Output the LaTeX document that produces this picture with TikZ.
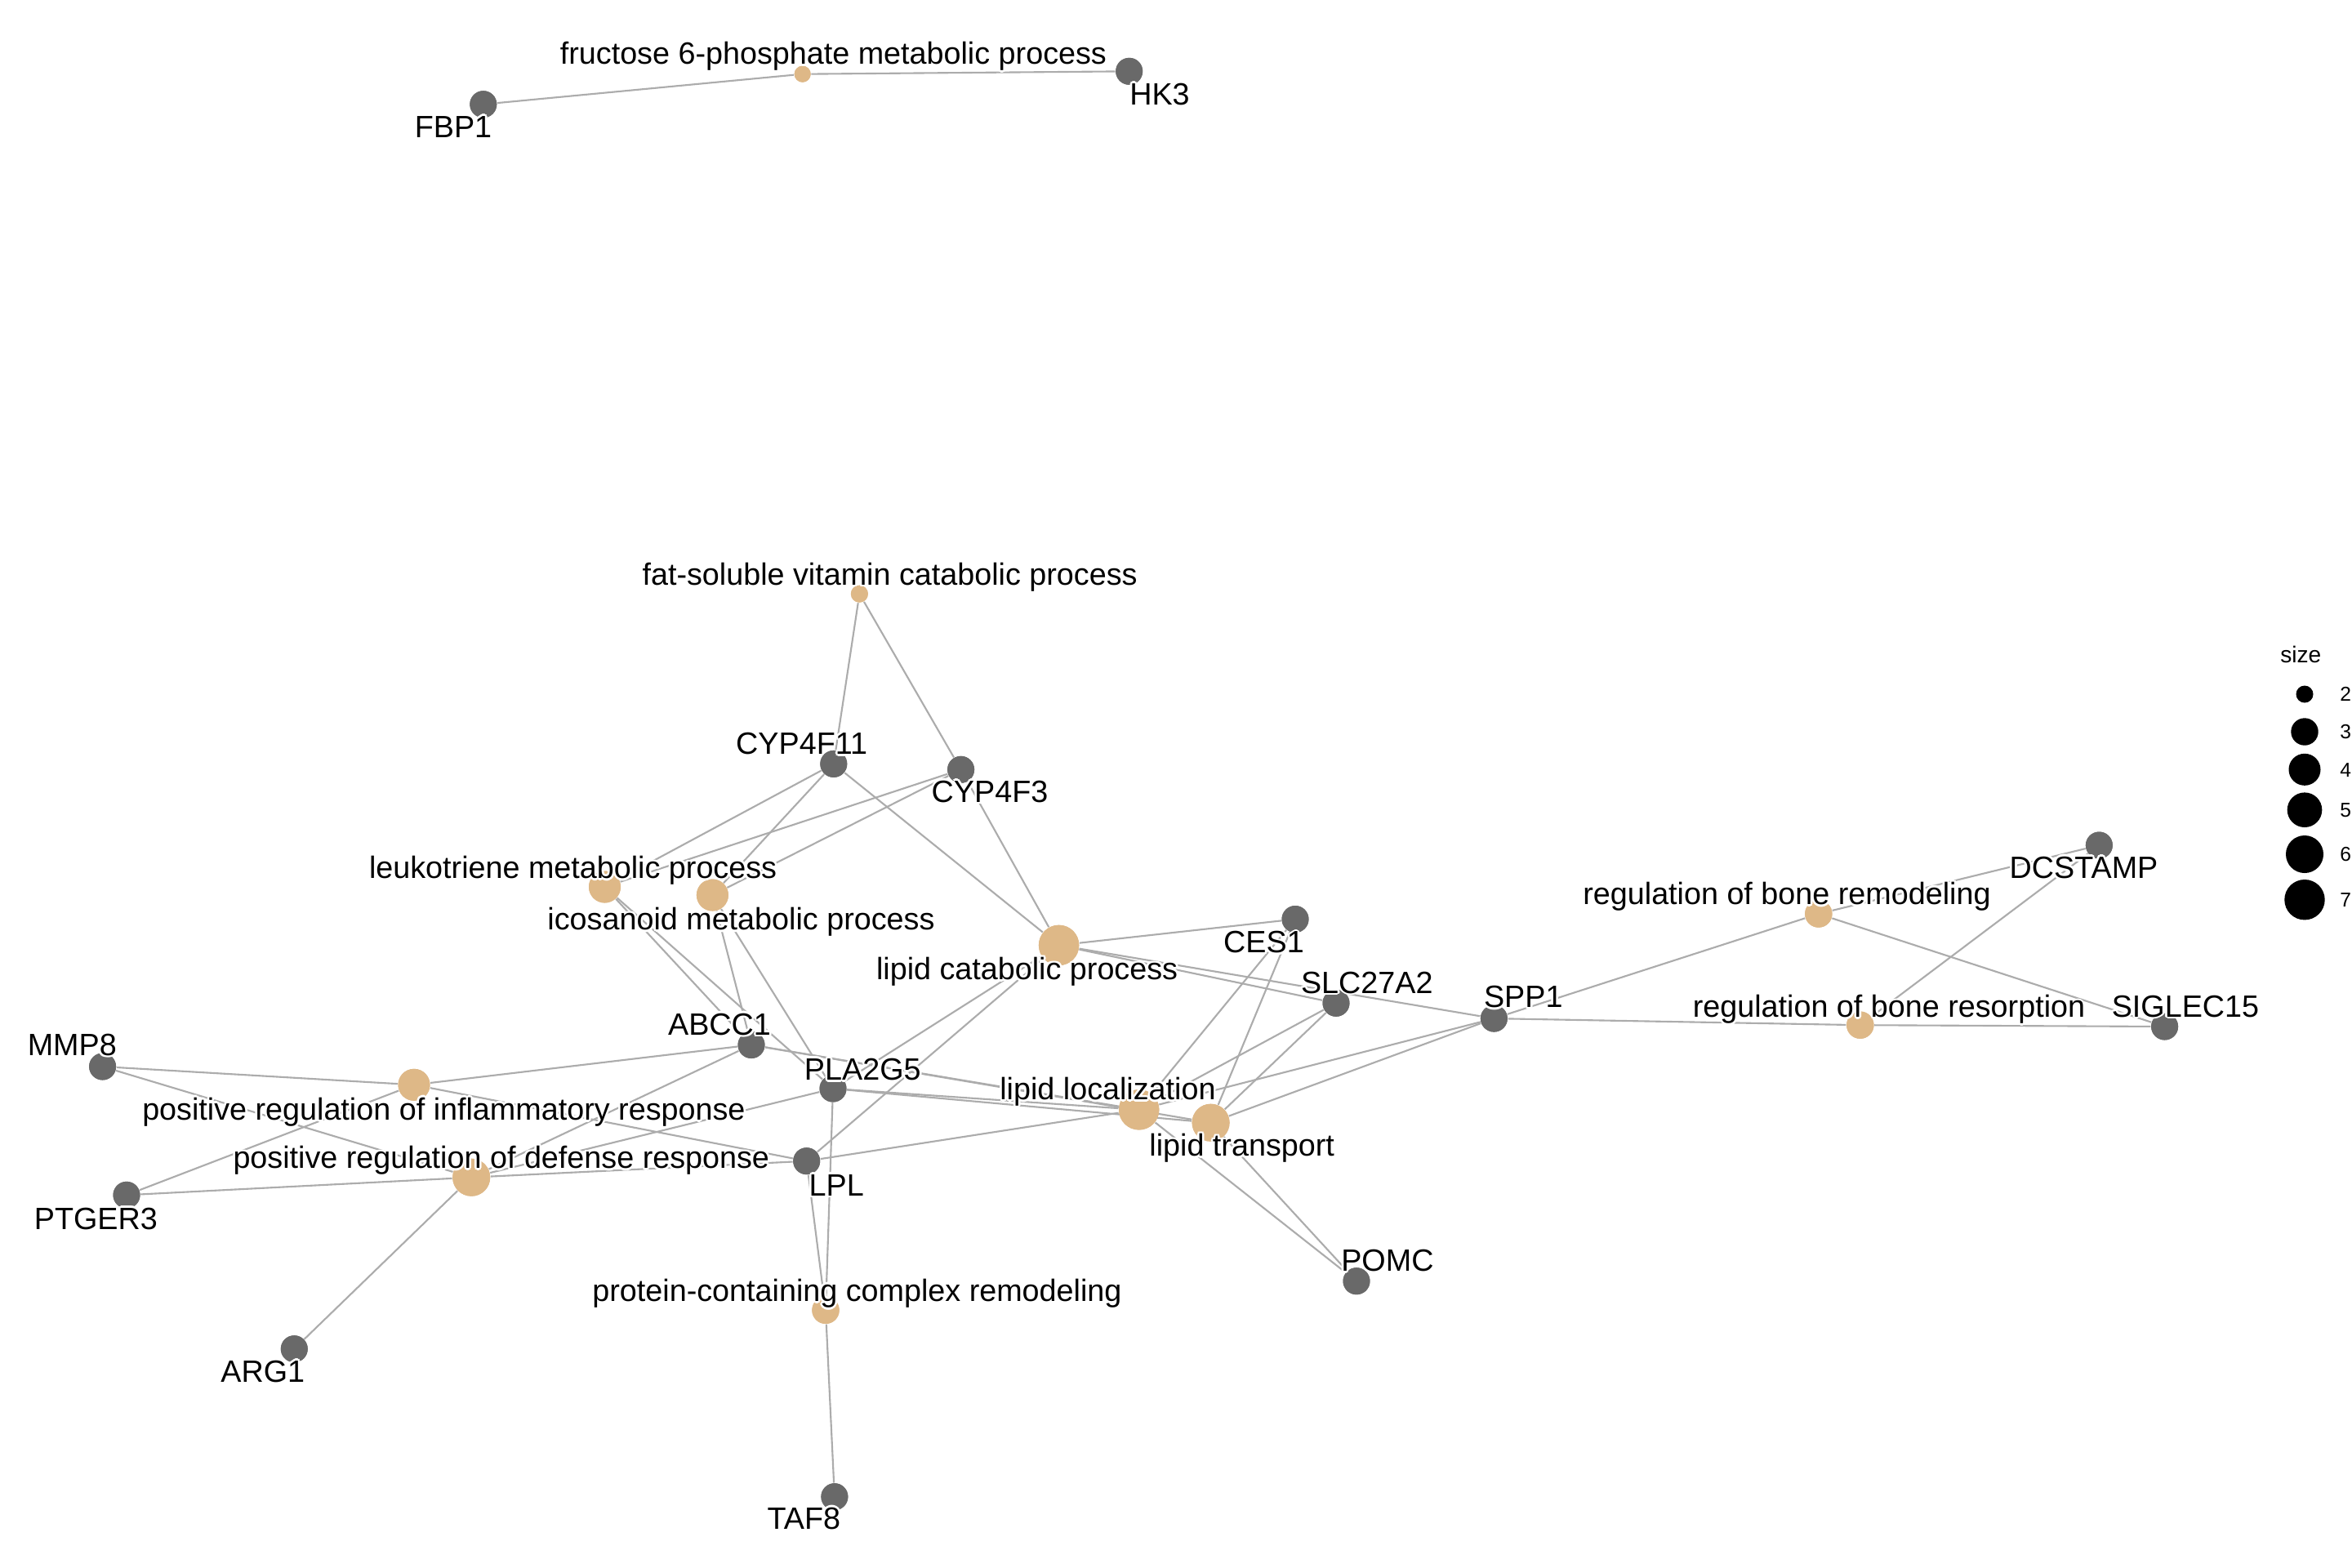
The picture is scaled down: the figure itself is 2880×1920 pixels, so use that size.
\documentclass[tikz,border=0pt]{standalone}
\usepackage{fontspec}
\setmainfont{Liberation Sans}
\definecolor{genecol}{RGB}{105,105,105}
\definecolor{catcol}{RGB}{222,184,135}
\definecolor{edgecol}{RGB}{172,172,172}
\newcommand{\labfont}{\fontsize{10.73pt}{12pt}\selectfont}
\newcommand{\hcopy}[3]{\rlap{\kern#1\raisebox{#2}{#3}}}
\newcommand{\halo}[1]{{\color{white}\hcopy{0.75pt}{0pt}{#1}\hcopy{-0.75pt}{0pt}{#1}\hcopy{0pt}{0.75pt}{#1}\hcopy{0pt}{-0.75pt}{#1}\hcopy{0.53pt}{0.53pt}{#1}\hcopy{-0.53pt}{0.53pt}{#1}\hcopy{0.53pt}{-0.53pt}{#1}\hcopy{-0.53pt}{-0.53pt}{#1}}#1}
\begin{document}
\begin{tikzpicture}[x=0.01cm,y=-0.01cm,
  edge/.style={draw=edgecol, line width=0.6pt},
  gene/.style={circle, fill=genecol, inner sep=0pt, minimum size=0.33cm},
  catnode/.style={circle, fill=catcol, inner sep=0pt, minimum size=#1},
  lab/.style={font=\labfont, inner sep=0pt, text height=7.7pt, text depth=0pt},
  legdot/.style={circle, fill=black, inner sep=0pt, minimum size=#1},
  legtxt/.style={inner sep=0pt, font=\fontsize{7pt}{8pt}\selectfont, text height=5pt, text depth=0pt}]
\fill[white] (0,0) rectangle (2880,1920);
\useasboundingbox (0,0) rectangle (2880,1920);

% gene nodes
\node[gene] (FBP1) at (591.8,127.7) {};
\node[gene] (HK3) at (1382.7,87.3) {};
\node[gene] (CYP4F11) at (1020.8,935.4) {};
\node[gene] (CYP4F3) at (1176.6,942.3) {};
\node[gene] (CES1) at (1586,1125.5) {};
\node[gene] (SLC27A2) at (1636,1228.3) {};
\node[gene] (SPP1) at (1829.4,1247.1) {};
\node[gene] (DCSTAMP) at (2570.4,1035) {};
\node[gene] (SIGLEC15) at (2650.6,1257) {};
\node[gene] (ABCC1) at (920,1279.5) {};
\node[gene] (MMP8) at (125.6,1306) {};
\node[gene] (PLA2G5) at (1020,1333) {};
\node[gene] (LPL) at (987.7,1421.7) {};
\node[gene] (PTGER3) at (155,1463.3) {};
\node[gene] (POMC) at (1661,1568.7) {};
\node[gene] (ARG1) at (360.3,1651.7) {};
\node[gene] (TAF8) at (1021.9,1832.7) {};

% category nodes
\node[catnode=0.2cm] (fru) at (982.7,90.7) {};
\node[catnode=0.21cm] (fat) at (1052.4,727.2) {};
\node[catnode=0.39cm] (leuko) at (740.5,1086) {};
\node[catnode=0.39cm] (icos) at (872.4,1096) {};
\node[catnode=0.494cm] (lipcat) at (1296.6,1157.4) {};
\node[catnode=0.334cm] (bonerem) at (2226.8,1119) {};
\node[catnode=0.334cm] (boneres) at (2277.8,1255.2) {};
\node[catnode=0.39cm] (inflam) at (507,1328.3) {};
\node[catnode=0.494cm] (liploc) at (1394.7,1358.8) {};
\node[catnode=0.46cm] (liptrans) at (1482.6,1374.7) {};
\node[catnode=0.46cm] (defense) at (577.2,1441.7) {};
\node[catnode=0.334cm] (protein) at (1011,1604.3) {};

% edges
\draw[edge] (fru) -- (FBP1);
\draw[edge] (fru) -- (HK3);
\draw[edge] (fat) -- (CYP4F11);
\draw[edge] (fat) -- (CYP4F3);
\foreach \g in {CYP4F11,CYP4F3,ABCC1,PLA2G5} {
  \draw[edge] (leuko) -- (\g);
  \draw[edge] (icos) -- (\g);
}
\foreach \g in {CYP4F11,CYP4F3,CES1,SLC27A2,SPP1,PLA2G5,LPL}
  \draw[edge] (lipcat) -- (\g);
\foreach \g in {ABCC1,PLA2G5,LPL,CES1,SLC27A2,SPP1,POMC}
  \draw[edge] (liploc) -- (\g);
\foreach \g in {ABCC1,PLA2G5,CES1,SLC27A2,SPP1,POMC}
  \draw[edge] (liptrans) -- (\g);
\foreach \g in {MMP8,PTGER3,ABCC1,LPL}
  \draw[edge] (inflam) -- (\g);
\foreach \g in {MMP8,PTGER3,ABCC1,PLA2G5,LPL,ARG1}
  \draw[edge] (defense) -- (\g);
\foreach \g in {LPL,PLA2G5,TAF8}
  \draw[edge] (protein) -- (\g);
\foreach \g in {SPP1,DCSTAMP,SIGLEC15} {
  \draw[edge] (bonerem) -- (\g);
  \draw[edge] (boneres) -- (\g);
}

% redraw node discs above the edges
\foreach \n in {FBP1,HK3,CYP4F11,CYP4F3,CES1,SLC27A2,SPP1,DCSTAMP,SIGLEC15,ABCC1,MMP8,PLA2G5,LPL,PTGER3,POMC,ARG1,TAF8}
  \fill[genecol] (\n.center) circle (16.5);
\foreach \n/\r in {fru/10,fat/10.5,leuko/19.5,icos/19.5,lipcat/24.7,bonerem/16.7,boneres/16.7,inflam/19.5,liploc/24.7,liptrans/23,defense/23,protein/16.7}
  \fill[catcol] (\n.center) circle (\r);

% labels
\node[lab] (lFBP1) at (555,154.7) {\halo{FBP1}};
\node[lab] (lHK3) at (1420,115) {\halo{HK3}};
\node[lab] (lCYP4F11) at (981.6,910.2) {\halo{CYP4F11}};
\node[lab] (lCYP4F3) at (1212,968.7) {\halo{CYP4F3}};
\node[lab] (lCES1) at (1547.5,1153.4) {\halo{CES1}};
\node[lab] (lSLC27A2) at (1673.8,1202.5) {\halo{SLC27A2}};
\node[lab] (lSPP1) at (1865.3,1220.4) {\halo{SPP1}};
\node[lab] (lDCSTAMP) at (2551.5,1061.9) {\halo{DCSTAMP}};
\node[lab] (lSIGLEC15) at (2676,1231.5) {\halo{SIGLEC15}};
\node[lab] (lABCC1) at (881,1253.7) {\halo{ABCC1}};
\node[lab] (lMMP8) at (88.3,1278.7) {\halo{MMP8}};
\node[lab] (lPLA2G5) at (1056.3,1309) {\halo{PLA2G5}};
\node[lab] (lLPL) at (1024.2,1450.7) {\halo{LPL}};
\node[lab] (lPTGER3) at (117.4,1492) {\halo{PTGER3}};
\node[lab] (lPOMC) at (1698.9,1543.4) {\halo{POMC}};
\node[lab] (lARG1) at (321.8,1679) {\halo{ARG1}};
\node[lab] (lTAF8) at (984.3,1858.9) {\halo{TAF8}};

\node[lab] (lfru) at (1020.4,65.3) {\halo{fructose 6-phosphate metabolic process}};
\node[lab] (lfat) at (1089.6,702.8) {\halo{fat-soluble vitamin catabolic process}};
\node[lab] (lleuko) at (701.6,1062.3) {\halo{leukotriene metabolic process}};
\node[lab] (licos) at (907.5,1125.2) {\halo{icosanoid metabolic process}};
\node[lab] (llipcat) at (1257.6,1186.3) {\halo{lipid catabolic process}};
\node[lab] (lbonerem) at (2188,1094) {\halo{regulation of bone remodeling}};
\node[lab] (lboneres) at (2313,1232.4) {\halo{regulation of bone resorption}};
\node[lab] (linflam) at (543.4,1358) {\halo{positive regulation of inflammatory response}};
\node[lab] (lliploc) at (1356.5,1333.1) {\halo{lipid localization}};
\node[lab] (lliptrans) at (1520.7,1402.3) {\halo{lipid transport}};
\node[lab] (ldefense) at (613.8,1417.3) {\halo{positive regulation of defense response}};
\node[lab] (lprotein) at (1049.5,1580) {\halo{protein-containing complex remodeling}};

% legend
\node[inner sep=0pt, font=\fontsize{8pt}{9pt}\selectfont, text height=5.7pt, text depth=0pt] (legtitle) at (2817.3,801.7) {size};
\node[legdot=0.21cm] (leg2) at (2822,850) {};
\node[legdot=0.334cm] (leg3) at (2822,896) {};
\node[legdot=0.39cm] (leg4) at (2822,942.3) {};
\node[legdot=0.426cm] (leg5) at (2822,991.7) {};
\node[legdot=0.46cm] (leg6) at (2822,1046) {};
\node[legdot=0.494cm] (leg7) at (2822,1101.7) {};
\node[legtxt] (leg2t) at (2872.3,850) {2};
\node[legtxt] (leg3t) at (2872.3,896) {3};
\node[legtxt] (leg4t) at (2872.3,942.3) {4};
\node[legtxt] (leg5t) at (2872.3,991.7) {5};
\node[legtxt] (leg6t) at (2872.3,1046) {6};
\node[legtxt] (leg7t) at (2872.3,1101.7) {7};
\end{tikzpicture}
\end{document}
